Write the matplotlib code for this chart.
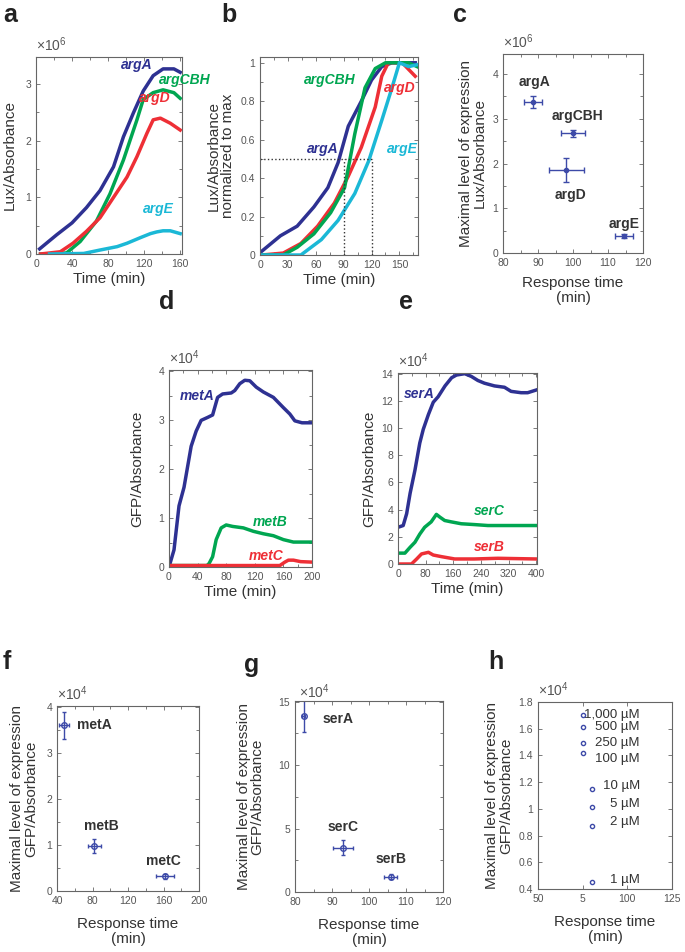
import matplotlib
matplotlib.use("Agg")
import matplotlib.pyplot as plt
from matplotlib.ticker import MultipleLocator, FixedLocator, FixedFormatter

plt.rcParams['font.family'] = ['Liberation Sans', 'DejaVu Sans']
plt.rcParams['mathtext.fontset'] = 'custom'
plt.rcParams['mathtext.rm'] = 'Liberation Sans'

W, H = 685, 952
BLUE = '#2e3192'
GREEN = '#00a651'
RED = '#ee2f36'
CYAN = '#1bb8d6'
GRAY = '#555555'
LBL = '#333333'

# ---- panel a: Lux/Absorbance (x1e6) vs time
a_argA_t = [4, 23, 40, 56, 71, 86, 97, 108, 119, 130, 141, 153, 160]
a_argA_y = [0.09, 0.34, 0.55, 0.82, 1.12, 1.54, 2.07, 2.49, 2.88, 3.15, 3.27, 3.27, 3.21]
a_argCBH_t = [5, 20, 34, 49, 67, 82, 97, 112, 119, 130, 141, 153, 160]
a_argCBH_y = [0.0, 0.0, 0.02, 0.22, 0.58, 1.06, 1.66, 2.37, 2.73, 2.85, 2.9, 2.85, 2.75]
a_argD_t = [5, 27, 41, 56, 71, 86, 101, 112, 123, 130, 138, 149, 160]
a_argD_y = [0.0, 0.04, 0.19, 0.4, 0.64, 1.0, 1.36, 1.72, 2.13, 2.37, 2.4, 2.31, 2.19]
a_argE_t = [15, 53, 71, 90, 101, 116, 127, 134, 141, 149, 160]
a_argE_y = [0.0, 0.01, 0.07, 0.13, 0.19, 0.29, 0.36, 0.39, 0.41, 0.41, 0.36]

# ---- panel b: normalized to max
b_argA_t = [2, 22, 40, 58, 73, 84, 95, 109, 120, 131, 142, 153, 167]
b_argA_y = [0.02, 0.1, 0.15, 0.25, 0.35, 0.48, 0.67, 0.8, 0.91, 0.98, 1.0, 1.0, 1.0]
b_argCBH_t = [2, 25, 40, 58, 76, 91, 102, 113, 124, 135, 146, 160, 169]
b_argCBH_y = [0.0, 0.0, 0.04, 0.11, 0.22, 0.35, 0.63, 0.87, 0.97, 1.0, 1.0, 1.0, 0.98]
b_argD_t = [2, 25, 44, 62, 80, 95, 109, 124, 131, 138, 146, 153, 167]
b_argD_y = [0.0, 0.01, 0.06, 0.15, 0.27, 0.41, 0.56, 0.77, 0.93, 1.0, 1.0, 1.0, 0.93]
b_argE_t = [2, 44, 66, 84, 102, 117, 131, 142, 150, 160, 169]
b_argE_y = [0.0, 0.0, 0.08, 0.18, 0.32, 0.49, 0.7, 0.87, 1.0, 0.98, 0.99]
b_half_times = [90, 121]

# ---- panel c: max expression vs response time (arg genes)
c_names = ['argA', 'argCBH', 'argD', 'argE']
c_x = [88.5, 100.0, 98.0, 114.5]
c_xerr = [2.5, 3.3, 5.0, 2.5]
c_y = [3.37, 2.68, 1.86, 0.38]
c_yerr = [0.13, 0.08, 0.27, 0.04]

# ---- panel d: met genes GFP/Absorbance (x1e4)
d_metA_t = [0, 7, 14, 21, 31, 38, 45, 54, 61, 68, 75, 87, 92, 99, 106, 113, 122, 132, 146, 160, 169, 176, 186, 200]
d_metA_y = [0.0, 0.35, 1.25, 1.63, 2.47, 2.78, 3.0, 3.06, 3.11, 3.47, 3.54, 3.56, 3.61, 3.75, 3.82, 3.81, 3.68, 3.58, 3.47, 3.26, 3.13, 2.99, 2.95, 2.95]
d_metB_t = [0, 53, 56, 61, 66, 73, 80, 89, 104, 118, 132, 146, 160, 174, 188, 200]
d_metB_y = [0.03, 0.03, 0.07, 0.21, 0.56, 0.8, 0.86, 0.83, 0.8, 0.73, 0.68, 0.64, 0.56, 0.51, 0.51, 0.51]
d_metC_t = [0, 155, 162, 167, 174, 184, 200]
d_metC_y = [0.03, 0.03, 0.1, 0.14, 0.14, 0.11, 0.1]

# ---- panel e: ser genes GFP/Absorbance (x1e4)
e_serA_t = [0, 15, 25, 35, 49, 63, 73, 88, 102, 116, 136, 155, 169, 193, 212, 231, 250, 279, 308, 327, 356, 375, 400]
e_serA_y = [2.7, 2.83, 3.7, 5.2, 6.9, 8.9, 9.9, 11.0, 11.9, 12.3, 13.1, 13.7, 13.9, 14.0, 13.8, 13.5, 13.3, 13.1, 13.0, 12.7, 12.6, 12.6, 12.8]
e_serC_t = [0, 20, 35, 49, 63, 77, 96, 111, 121, 135, 154, 183, 221, 260, 308, 400]
e_serC_y = [0.8, 0.8, 1.23, 1.6, 2.2, 2.7, 3.1, 3.65, 3.45, 3.2, 3.1, 2.96, 2.9, 2.83, 2.83, 2.83]
e_serB_t = [0, 39, 54, 68, 88, 102, 126, 164, 221, 289, 400]
e_serB_y = [0.0, 0.0, 0.37, 0.74, 0.86, 0.66, 0.54, 0.37, 0.37, 0.42, 0.37]

# ---- panel f: met genes max vs response time
f_names = ['metA', 'metB', 'metC']
f_x = [47.5, 82.0, 162.0]
f_xerr = [5.5, 7.5, 10.0]
f_y = [3.6, 0.98, 0.32]
f_yerr = [0.3, 0.15, 0.05]

# ---- panel g: ser genes max vs response time
g_names = ['serA', 'serC', 'serB']
g_x = [82.3, 93.0, 105.9]
g_xerr = [0.3, 2.8, 1.8]
g_y = [13.9, 3.5, 1.2]
g_yerr = [1.3, 0.6, 0.2]

# ---- panel h: concentrations
h_labels = ['1,000 \u00b5M', '500 \u00b5M', '250 \u00b5M', '100 \u00b5M', '10 \u00b5M', '5 \u00b5M', '2 \u00b5M', '1 \u00b5M']
h_x = [75.0, 75.0, 75.0, 75.0, 80.2, 80.2, 80.2, 80.2]
h_y = [1.70, 1.61, 1.49, 1.42, 1.15, 1.015, 0.87, 0.45]
h_label_y = [1.70, 1.61, 1.49, 1.37, 1.17, 1.04, 0.90, 0.47]

fig = plt.figure(figsize=(W / 100, H / 100), dpi=100)


def add_ax(l, t, r, b):
    ax = fig.add_axes([l / W, 1 - b / H, (r - l) / W, (b - t) / H])
    for s in ax.spines.values():
        s.set_color('#666666')
        s.set_linewidth(0.8)
    ax.tick_params(which='both', direction='in', top=True, right=True,
                   colors='#666666', labelcolor=GRAY, labelsize=7.5, width=0.6)
    ax.tick_params(which='major', length=3)
    ax.tick_params(which='minor', length=2)
    return ax


def letter(x, y, s):
    fig.text(x / W, 1 - y / H, s, fontsize=18, fontweight='bold', va='center', ha='left', color='#222222')


def expo(ax, s):
    ax.text(0.0, 1.015, s, transform=ax.transAxes, fontsize=10, color=GRAY, ha='left', va='bottom')


def name(ax, x, y, s, c, italic=True):
    ax.text(x, y, s, color=c, fontsize=10, fontweight='bold',
            style='italic' if italic else 'normal', ha='center', va='center', clip_on=False)


LW = 2.5

# a
ax = add_ax(36, 57, 182, 254)
ax.plot(a_argA_t, a_argA_y, color=BLUE, lw=LW)
ax.plot(a_argCBH_t, a_argCBH_y, color=GREEN, lw=LW)
ax.plot(a_argD_t, a_argD_y, color=RED, lw=LW)
ax.plot(a_argE_t, a_argE_y, color=CYAN, lw=LW)
ax.set_xlim(0, 162)
ax.set_ylim(0, 3.48)
ax.xaxis.set_major_locator(MultipleLocator(40))
ax.xaxis.set_minor_locator(MultipleLocator(20))
ax.yaxis.set_major_locator(MultipleLocator(1))
ax.yaxis.set_minor_locator(MultipleLocator(0.5))
name(ax, 112, 3.33, 'argA', BLUE)
name(ax, 165, 3.07, 'argCBH', GREEN)
name(ax, 132, 2.76, 'argD', RED)
name(ax, 136, 0.8, 'argE', CYAN)
ax.set_xlabel('Time (min)', fontsize=11, color=LBL, labelpad=2)
ax.set_ylabel('Lux/Absorbance', fontsize=11, color=LBL, labelpad=6)
expo(ax, r'$\times$10$^{6}$')
letter(3, 15, 'a')

# b
ax = add_ax(260, 57, 418, 255)
ax.plot(b_argA_t, b_argA_y, color=BLUE, lw=LW)
ax.plot(b_argD_t, b_argD_y, color=RED, lw=LW)
ax.plot(b_argCBH_t, b_argCBH_y, color=GREEN, lw=LW)
ax.plot(b_argE_t, b_argE_y, color=CYAN, lw=LW)
ax.plot([0, b_half_times[1]], [0.5, 0.5], color='#333333', ls=':', lw=1)
for tt in b_half_times:
    ax.plot([tt, tt], [0, 0.5], color='#333333', ls=':', lw=1)
ax.set_xlim(0, 170)
ax.set_ylim(0, 1.03)
ax.xaxis.set_major_locator(MultipleLocator(30))
ax.xaxis.set_minor_locator(MultipleLocator(15))
ax.yaxis.set_major_locator(FixedLocator([0, 0.2, 0.4, 0.6, 0.8, 1.0]))
ax.yaxis.set_major_formatter(FixedFormatter(['0', '0.2', '0.4', '0.6', '0.8', '1']))
ax.yaxis.set_minor_locator(MultipleLocator(0.1))
name(ax, 75, 0.91, 'argCBH', GREEN)
name(ax, 150, 0.87, 'argD', RED)
name(ax, 68, 0.55, 'argA', BLUE)
name(ax, 153, 0.55, 'argE', CYAN)
ax.set_xlabel('Time (min)', fontsize=11, color=LBL, labelpad=2)
ax.set_ylabel('Lux/Absorbance\nnormalized to max', fontsize=11, color=LBL, labelpad=4, linespacing=1.0)
letter(221, 15, 'b')

# c
ax = add_ax(503, 54, 643, 253)
ax.errorbar(c_x, c_y, xerr=c_xerr, yerr=c_yerr, fmt='o', color='#3d4aa8', ms=3,
            elinewidth=1, capsize=2, capthick=1)
ax.set_xlim(80, 120)
ax.set_ylim(0, 4.45)
ax.xaxis.set_major_locator(MultipleLocator(10))
ax.xaxis.set_minor_locator(MultipleLocator(5))
ax.yaxis.set_major_locator(MultipleLocator(1))
ax.yaxis.set_minor_locator(MultipleLocator(0.5))
c_lab = [(89, 3.82), (101.4, 3.06), (99.4, 1.29), (114.7, 0.64)]
for (lx, ly), s in zip(c_lab, c_names):
    name(ax, lx, ly, s, '#333333', italic=False)
ax.set_xlabel('Response time\n(min)', fontsize=11, color=LBL, labelpad=6, linespacing=1.1)
ax.set_ylabel('Maximal level of expression\nLux/Absorbance', fontsize=11, color=LBL, labelpad=4, linespacing=1.0)
expo(ax, r'$\times$10$^{6}$')
letter(453, 15, 'c')

# d
ax = add_ax(169, 370, 312, 567)
ax.plot(d_metA_t, d_metA_y, color=BLUE, lw=LW)
ax.plot(d_metB_t, d_metB_y, color=GREEN, lw=LW)
ax.plot(d_metC_t, d_metC_y, color=RED, lw=LW)
ax.set_xlim(0, 200)
ax.set_ylim(0, 4.03)
ax.xaxis.set_major_locator(MultipleLocator(40))
ax.xaxis.set_minor_locator(MultipleLocator(20))
ax.yaxis.set_major_locator(MultipleLocator(1))
ax.yaxis.set_minor_locator(MultipleLocator(0.5))
name(ax, 40, 3.49, 'metA', BLUE)
name(ax, 141, 0.93, 'metB', GREEN)
name(ax, 136, 0.23, 'metC', RED)
ax.set_xlabel('Time (min)', fontsize=11, color=LBL, labelpad=2)
ax.set_ylabel('GFP/Absorbance', fontsize=11, color=LBL, labelpad=10)
expo(ax, r'$\times$10$^{4}$')
letter(159, 302, 'd')

# e
ax = add_ax(398, 373, 537, 564)
ax.plot(e_serA_t, e_serA_y, color=BLUE, lw=LW)
ax.plot(e_serC_t, e_serC_y, color=GREEN, lw=LW)
ax.plot(e_serB_t, e_serB_y, color=RED, lw=LW)
ax.set_xlim(0, 402)
ax.set_ylim(0, 14.05)
ax.xaxis.set_major_locator(MultipleLocator(80))
ax.xaxis.set_minor_locator(MultipleLocator(40))
ax.yaxis.set_major_locator(MultipleLocator(2))
name(ax, 62, 12.5, 'serA', BLUE)
name(ax, 265, 3.9, 'serC', GREEN)
name(ax, 265, 1.25, 'serB', RED)
ax.set_xlabel('Time (min)', fontsize=11, color=LBL, labelpad=2)
ax.set_ylabel('GFP/Absorbance', fontsize=11, color=LBL, labelpad=4)
expo(ax, r'$\times$10$^{4}$')
letter(399, 302, 'e')

# f
ax = add_ax(57, 706, 199, 891)
ax.errorbar(f_x, f_y, xerr=f_xerr, yerr=f_yerr, fmt='o', color='#3d4aa8', ms=4, mfc='none',
            elinewidth=1, capsize=1.5, capthick=1)
ax.set_xlim(40, 200)
ax.set_ylim(0, 4.02)
ax.xaxis.set_major_locator(MultipleLocator(40))
ax.xaxis.set_minor_locator(MultipleLocator(20))
ax.yaxis.set_major_locator(MultipleLocator(1))
ax.yaxis.set_minor_locator(MultipleLocator(0.5))
f_lab = [(82, 3.6), (90, 1.41), (160, 0.65)]
for (lx, ly), s in zip(f_lab, f_names):
    name(ax, lx, ly, s, '#333333', italic=False)
ax.set_xlabel('Response time\n(min)', fontsize=11, color=LBL, labelpad=8, linespacing=1.1)
ax.set_ylabel('Maximal level of expression\nGFP/Absorbance', fontsize=11, color=LBL, labelpad=6, linespacing=1.0)
expo(ax, r'$\times$10$^{4}$')
letter(3, 662, 'f')

# g
ax = add_ax(295, 701, 443, 892)
ax.errorbar(g_x, g_y, xerr=g_xerr, yerr=g_yerr, fmt='o', color='#3d4aa8', ms=4, mfc='none',
            elinewidth=1, capsize=1.5, capthick=1)
ax.set_xlim(80, 120)
ax.set_ylim(0, 15.05)
ax.xaxis.set_major_locator(MultipleLocator(10))
ax.xaxis.set_minor_locator(MultipleLocator(5))
ax.yaxis.set_major_locator(MultipleLocator(5))
ax.yaxis.set_minor_locator(MultipleLocator(2.5))
g_lab = [(91.7, 13.6), (92.9, 5.1), (106, 2.6)]
for (lx, ly), s in zip(g_lab, g_names):
    name(ax, lx, ly, s, '#333333', italic=False)
ax.set_xlabel('Response time\n(min)', fontsize=11, color=LBL, labelpad=8, linespacing=1.1)
ax.set_ylabel('Maximal level of expression\nGFP/Absorbance', fontsize=11, color=LBL, labelpad=10, linespacing=1.0)
expo(ax, r'$\times$10$^{4}$')
ax.texts[-1].set_position((0.03, 1.0))
letter(244, 665, 'g')

# h
ax = add_ax(538, 702, 672, 889)
ax.plot(h_x, h_y, 'o', color='#3d4aa8', ms=3, mfc='none', mew=1)
for ly, s in zip(h_label_y, h_labels):
    ax.text(107, ly, s, fontsize=9.5, color='#333333', ha='right', va='center')
ax.set_xlim(50, 125)
ax.set_ylim(0.4, 1.8)
ax.xaxis.set_major_locator(FixedLocator([50, 75, 100, 125]))
ax.xaxis.set_major_formatter(FixedFormatter(['50', '5', '100', '125']))
ax.yaxis.set_major_locator(FixedLocator([0.4, 0.6, 0.8, 1.0, 1.2, 1.4, 1.6, 1.8]))
ax.yaxis.set_major_formatter(FixedFormatter(['0.4', '0.6', '0.8', '1', '1.2', '1.4', '1.6', '1.8']))
ax.set_xlabel('Response time\n(min)', fontsize=11, color=LBL, labelpad=8, linespacing=1.1)
ax.set_ylabel('Maximal level of expression\nGFP/Absorbance', fontsize=11, color=LBL, labelpad=4, linespacing=1.0)
expo(ax, r'$\times$10$^{4}$')
letter(488, 662, 'h')

fig.savefig('out.png', dpi=100)
